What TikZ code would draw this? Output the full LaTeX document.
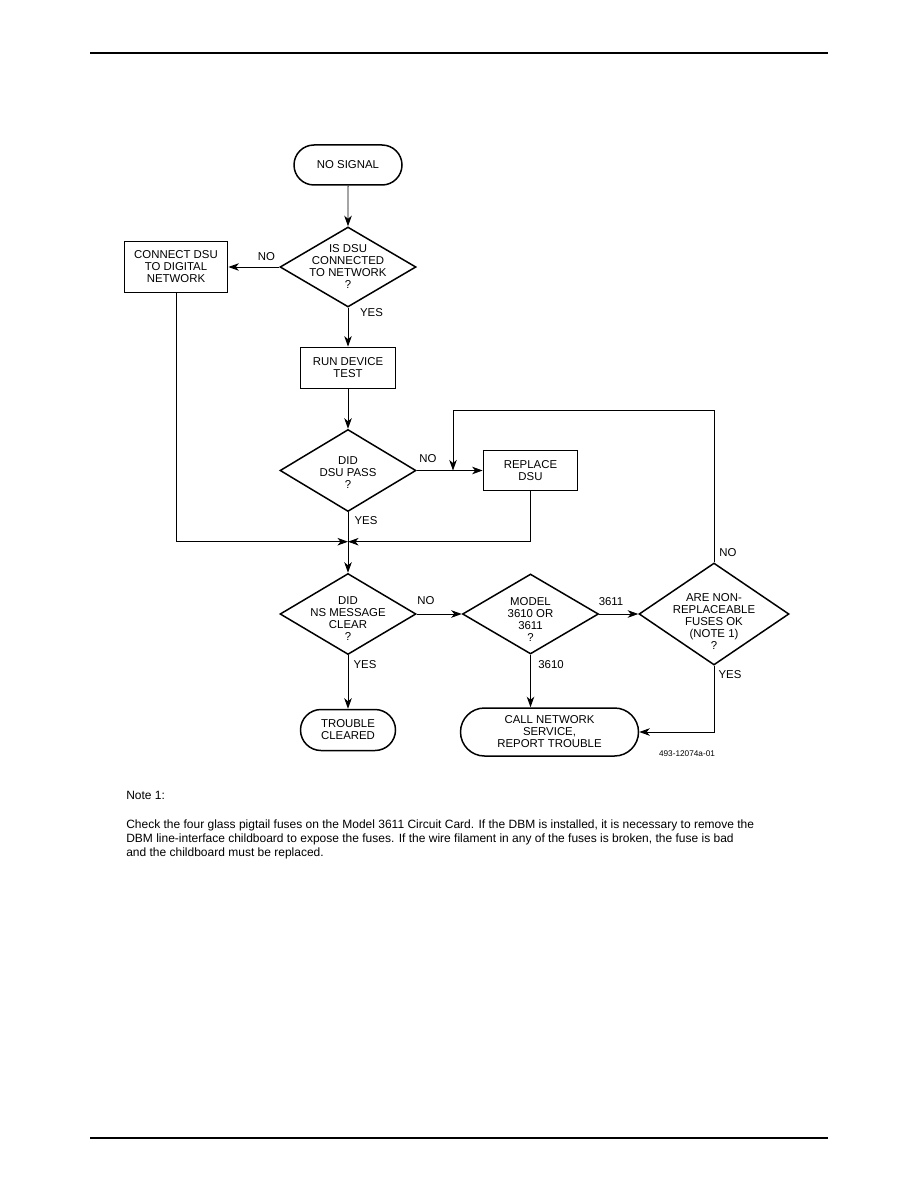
\documentclass[tikz,border=0pt]{standalone}
\usepackage{fontspec}
\setmainfont{Liberation Sans}
\usetikzlibrary{arrows.meta}
\usetikzlibrary{shapes.geometric,shapes.misc}
\usetikzlibrary{positioning}
\def\px{0.6667pt}
\tikzset{
	>={Stealth[length=7pt, width=5pt, inset=2pt]},
	flow/.style={black, line width=0.65pt, ->},
	txt/.style={font=\fontsize{7.6}{8}\selectfont, align=center, inner sep=0pt},
	lbl/.style={font=\fontsize{7.6}{8}\selectfont, inner sep=0pt},
	terminal/.style 2 args={txt, draw, line width=1pt, rounded rectangle,
		minimum width=#1*\px, minimum height=#2*\px},
	process/.style 2 args={txt, draw, line width=1.15pt, rectangle,
		minimum width=#1*\px, minimum height=#2*\px},
	decision/.style 2 args={diamond, draw, line width=1pt, inner sep=0pt,
		minimum width=#1*\px, minimum height=#2*\px},
	rule/.style={black, line width=1pt},
	note/.style={font=\fontsize{8}{9.47}\selectfont, align=left, inner sep=0pt},
}

\begin{document}
\begin{tikzpicture}[x=0.6667pt, y=-0.6667pt]
		
		% page frame (pixel coordinates of the scan)
		\useasboundingbox (0,0) rectangle (918,1188);
		\draw[rule] (90,53) -- (828,53);
		\draw[rule] (90,1138) -- (828,1138);
		
		% --- terminals ---
		\node[terminal={108}{40}] (nosignal) at (348,165) {NO SIGNAL};
		\node[terminal={95}{41}] (cleared) at (348,730) {TROUBLE\\CLEARED};
		\node[terminal={178}{48}] (callnet) at (549.5,732) {CALL NETWORK\\SERVICE,\\REPORT TROUBLE};
		
		% --- process boxes ---
		\node[process={103}{51}] (connect) at (176,267) {CONNECT DSU\\TO DIGITAL\\NETWORK};
		\node[process={95}{41}] (devtest) at (348,368) {RUN DEVICE\\TEST};
		\node[process={94}{40}] (replace) at (530.5,470.5) {REPLACE\\DSU};
		
		% --- decisions (text set as centre labels) ---
		\node[decision={136}{80},
			label={[txt]center:{IS DSU\\CONNECTED\\TO NETWORK\\?}}] (dsucon) at (348,267) {};
		\node[decision={136}{82},
			label={[txt, yshift=-2*\px]center:{DID\\DSU PASS\\?}}] (dsupass) at (348,470.5) {};
		\node[decision={136}{81},
			label={[txt, yshift=-5*\px]center:{DID\\NS MESSAGE\\CLEAR\\?}}] (nsclear) at (348,614) {};
		\node[decision={136}{80},
			label={[txt, yshift=-6*\px]center:{MODEL\\3610 OR\\3611\\?}}] (model) at (530.5,614) {};
		\node[decision={150}{102},
			label={[txt, yshift=-8*\px]center:{ARE NON-\\REPLACEABLE\\FUSES OK\\(NOTE 1)\\?}}] (fuses) at (714,614) {};
		
		% --- helper points ---
		\coordinate (merge) at (348,541.7);
		\coordinate (looptop) at (453,410);
		\coordinate (loopin) at (453,470.5);
		
		% --- connectors ---
		\draw[flow] (nosignal) -- (dsucon.north);
		\draw[flow] (dsucon.west) -- (connect.east);
		\draw[flow] (dsucon.south) -- (devtest.north);
		\draw[flow] (devtest.south) -- (dsupass.north);
		\draw[flow] (dsupass.east) -- (replace.west);
		\draw[flow] (dsupass.south) -- (nsclear.north);
		\draw[flow] (connect.south) |- (merge);
		\draw[flow] (replace.south) |- (merge);
		\draw[flow] (nsclear.south) -- (cleared.north);
		\draw[flow] (nsclear.east) -- (model.west);
		\draw[flow] (model.east) -- (fuses.west);
		\draw[flow] (model.south) -- (callnet.north -| model.south);
		\draw[flow] (fuses.south) |- (callnet.east);
		\draw[flow] (fuses.north) |- (looptop) -- (loopin);
		
		% --- branch labels ---
		\node[lbl] (noA) at (266.5,257) {NO};
		\node[lbl] (yesA) at (371.5,313) {YES};
		\node[lbl] (noB) at (428,459) {NO};
		\node[lbl] (yesB) at (366,521) {YES};
		\node[lbl] (noC) at (426,601) {NO};
		\node[lbl] (yesC) at (365,665) {YES};
		\node[lbl] (m3611) at (611,602) {3611};
		\node[lbl] (m3610) at (551,665) {3610};
		\node[lbl] (yesD) at (730,675) {YES};
		\node[lbl] (noD) at (728,553) {NO};
		
		% figure number
		\node[font=\fontsize{5.5}{6}\selectfont, inner sep=0pt] (fignum) at (687,753.3) {493-12074a-01};
		
		% --- note below the chart ---
		\node[note, anchor=base west] (notehead) at (126,799.3) {Note 1:};
		\node[note, anchor=base west] (notebody) at (126,856.7) {Check the four glass pigtail fuses on the Model 3611 Circuit Card. If the DBM is installed, it is necessary to remove the\\
			DBM line-interface childboard to expose the fuses. If the wire filament in any of the fuses is broken, the fuse is bad\\
			and the childboard must be replaced.};
		
	\end{tikzpicture}
\end{document}
